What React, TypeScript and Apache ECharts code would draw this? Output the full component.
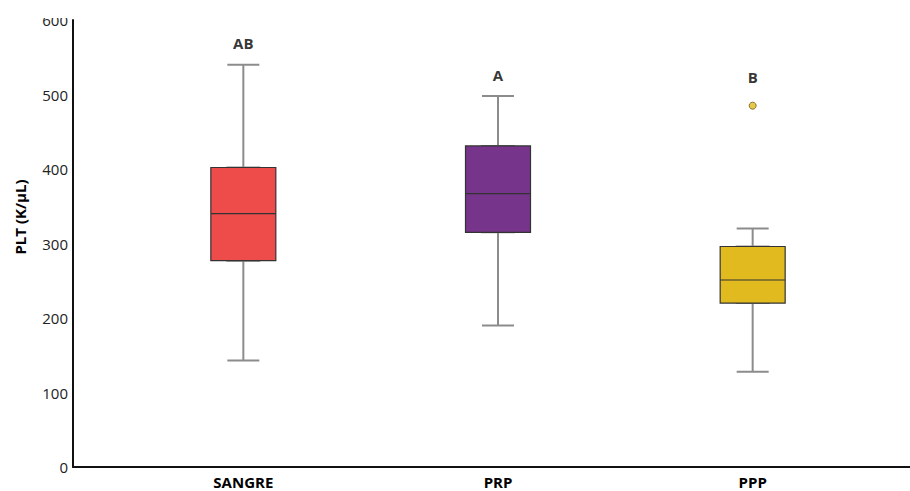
import React, { useEffect, useRef } from "react";
import * as echarts from "echarts";

// Platelet counts per sample type
const categories = ["SANGRE", "PRP", "PPP"];
// [min, Q1, median, Q3, max]
const boxStats = [
  [143, 277, 340, 402, 540],
  [190, 315, 367, 431, 498],
  [128, 220, 251, 296, 320],
];
const boxColors = ["#EE4B4B", "#76348A", "#E0BA1E"];
const outliers = [[2, 485]];
const groupLetters = ["AB", "A", "B"];
const letterValues = [569, 526, 523];
const yTicks = { min: 0, max: 600, interval: 100 };

const FONT = "'Open Sans', 'DejaVu Sans', sans-serif";

export default function App() {
  const ref = useRef<HTMLDivElement>(null);

  useEffect(() => {
    if (!ref.current) return;
    document.body.style.margin = "0";
    const chart = echarts.init(ref.current, undefined, { renderer: "svg" });

    const whiskerData = boxStats.map((s) => s.slice());
    const boxData = boxStats.map((s, i) => ({
      value: [s[1], s[1], s[2], s[3], s[3]],
      itemStyle: { color: boxColors[i] },
    }));

    const categoryAxis = (visible: boolean) => ({
      gridIndex: 1,
      type: "category",
      data: categories,
      boundaryGap: true,
      show: visible,
      axisLine: { show: false },
      axisTick: { show: false },
      axisLabel: {
        margin: 8,
        color: "#000",
        fontFamily: FONT,
        fontWeight: "bold",
        fontSize: 15,
        lineHeight: 14,
      },
    });

    chart.setOption({
      animation: false,
      grid: [
        { left: 73, right: 0, top: 20, bottom: 24 },
        { left: 116, right: 30, top: 20, bottom: 24 },
      ],
      xAxis: [
        {
          gridIndex: 0,
          type: "value",
          min: 0,
          max: 1,
          axisLine: { show: true, lineStyle: { color: "#111", width: 2 } },
          axisTick: { show: false },
          axisLabel: { show: false },
          splitLine: { show: false },
        },
        categoryAxis(true),
        categoryAxis(false),
      ],
      yAxis: [
        {
          gridIndex: 0,
          type: "value",
          min: yTicks.min,
          max: yTicks.max,
          interval: yTicks.interval,
          axisLine: { show: true, lineStyle: { color: "#111", width: 2 } },
          axisTick: { show: false },
          splitLine: { show: false },
          axisLabel: {
            margin: 5,
            color: "#222",
            fontFamily: FONT,
            fontSize: 15,
          },
        },
        {
          gridIndex: 1,
          type: "value",
          min: yTicks.min,
          max: yTicks.max,
          show: false,
        },
      ],
      series: [
        {
          // whiskers and caps
          type: "boxplot",
          xAxisIndex: 1,
          yAxisIndex: 1,
          boxWidth: [32, 32],
          data: whiskerData,
          itemStyle: { color: "rgba(0,0,0,0)", borderColor: "#8c8c8c", borderWidth: 2 },
          emphasis: { disabled: true },
        },
        {
          // interquartile boxes with median line
          type: "boxplot",
          xAxisIndex: 2,
          yAxisIndex: 1,
          boxWidth: [65, 65],
          data: boxData,
          itemStyle: { borderColor: "#333", borderWidth: 1.2 },
          emphasis: { disabled: true },
        },
        {
          type: "scatter",
          xAxisIndex: 1,
          yAxisIndex: 1,
          data: outliers,
          symbolSize: 7,
          itemStyle: { color: "#E0BA1E", borderColor: "#6b5a10", borderWidth: 1 },
        },
        {
          type: "scatter",
          xAxisIndex: 1,
          yAxisIndex: 1,
          symbolSize: 0,
          data: letterValues.map((v, i) => [i, v]),
          label: {
            show: true,
            position: "inside",
            formatter: (p: any) => groupLetters[p.dataIndex],
            color: "#000",
            fontFamily: FONT,
            fontWeight: "bold",
            fontSize: 15,
          },
        },
      ],
      graphic: [
        {
          type: "text",
          x: 20,
          y: 217,
          rotation: Math.PI / 2,
          style: {
            text: "PLT (K/µL)",
            fill: "#000",
            font: `bold 15px ${FONT}`,
            align: "center",
            verticalAlign: "middle",
          },
        },
        {
          // top strip is blank, trimming the upper tick label
          type: "rect",
          shape: { x: 0, y: 0, width: 910, height: 18 },
          style: { fill: "#fff" },
          z: 100,
        },
      ],
    });

    return () => chart.dispose();
  }, []);

  return <div ref={ref} style={{ width: 910, height: 491 }} />;
}
